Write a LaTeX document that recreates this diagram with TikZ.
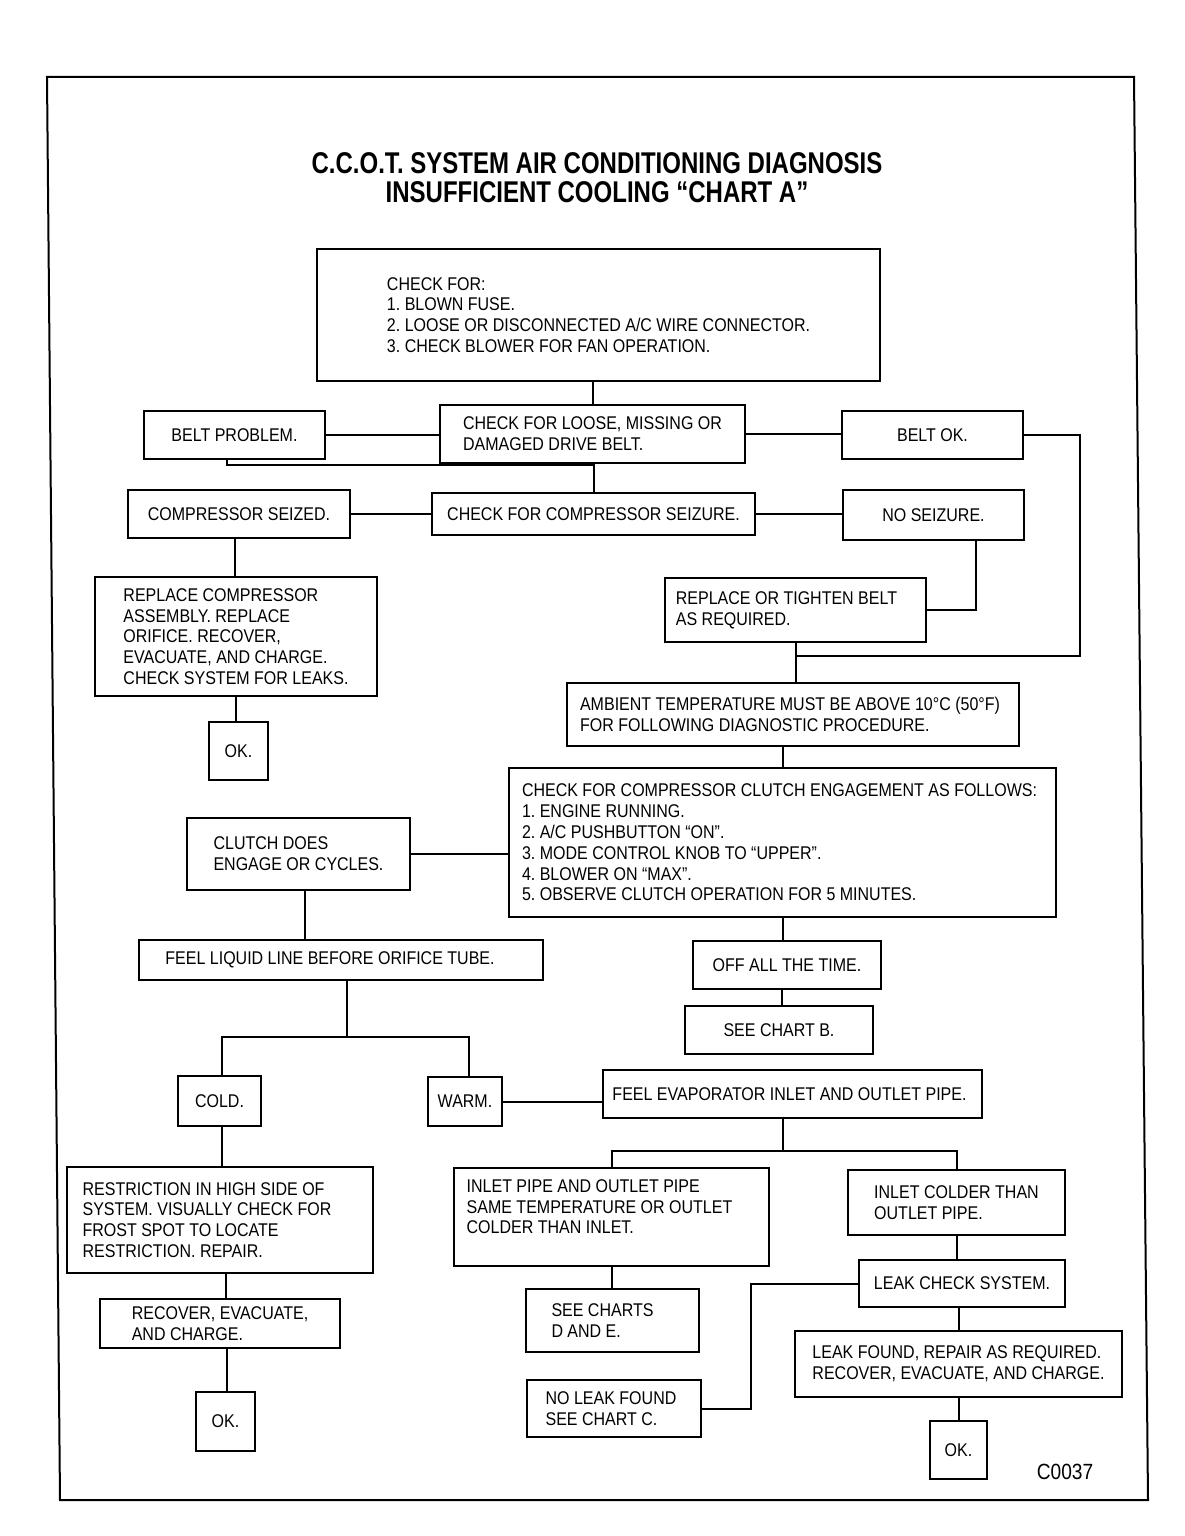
\documentclass[tikz,border=0pt]{standalone}
\usepackage{fontspec}
\setmainfont{Liberation Sans}[FakeStretch=0.87]
\newfontfamily\titlefont{Liberation Sans}[FakeStretch=0.8]
\usetikzlibrary{calc}
\newcommand\padln[2]{\mbox{#1\hspace{#2}}}
\begin{document}
\begin{tikzpicture}[x=0.5pt,y=-0.5pt,
  cbox/.style 2 args={draw, line width=1.1pt, rectangle, minimum width=#1, minimum height=#2,
    inner sep=0pt, align=left, font=\fontsize{9.2}{10.4}\selectfont},
  conn/.style={line width=1pt},
  frame/.style={line width=1pt}]
\useasboundingbox (0,0) rectangle (1184,1536);
\fill[white] (0,0) rectangle (1184,1536);
% outer frame (slightly skewed scan)
\draw[frame] (47,77) -- (1134,77) -- (1148,1500) -- (60,1500) -- cycle;

\node[font=\titlefont\fontsize{15}{14.5}\selectfont\bfseries, align=center] (title) at (597,178)
  {C.C.O.T. SYSTEM AIR CONDITIONING DIAGNOSIS\\INSUFFICIENT COOLING “CHART A”};

\node[cbox={281.5pt}{66pt}] (b1) at (598.5,315)
  {CHECK FOR:\\1.\ BLOWN FUSE.\\2.\ LOOSE OR DISCONNECTED A/C WIRE CONNECTOR.\\3.\ CHECK BLOWER FOR FAN OPERATION.};
\node[cbox={90.5pt}{24pt}] (beltprob) at (234.5,435) {BELT PROBLEM.};
\node[cbox={152.5pt}{29pt}] (loose) at (592.5,434) {CHECK FOR LOOSE, MISSING OR\\DAMAGED DRIVE BELT.};
\node[cbox={90.5pt}{24pt}] (beltok) at (932.5,435) {BELT OK.};
\node[cbox={111pt}{24pt}] (seized) at (239,514) {COMPRESSOR SEIZED.};
\node[cbox={161.5pt}{21pt}] (seizchk) at (593.5,514) {CHECK FOR COMPRESSOR SEIZURE.};
\node[cbox={90.5pt}{25pt}] (noseiz) at (933.5,515) {NO SEIZURE.};
\node[cbox={141pt}{59.5pt}] (replcomp) at (236,636.5)
  {REPLACE COMPRESSOR\\ASSEMBLY. REPLACE\\ORIFICE. RECOVER,\\EVACUATE, AND CHARGE.\\CHECK SYSTEM FOR LEAKS.};
\node[cbox={29.5pt}{29pt}] (ok1) at (238.5,751) {OK.};
\node[cbox={130.5pt}{32pt}] (tighten) at (795.5,610) {\padln{REPLACE OR TIGHTEN BELT}{9pt}\\AS REQUIRED.};
\node[cbox={226pt}{31.5pt}] (ambient) at (793,714.5)
  {\padln{AMBIENT TEMPERATURE MUST BE ABOVE 10°C (50°F)}{3pt}\\FOR FOLLOWING DIAGNOSTIC PROCEDURE.};
\node[cbox={273.5pt}{74.5pt}] (clutchchk) at (782.5,842.5)
  {\padln{CHECK FOR COMPRESSOR CLUTCH ENGAGEMENT AS FOLLOWS:}{3pt}\\1.\ ENGINE RUNNING.\\2.\ A/C PUSHBUTTON “ON”.\\3.\ MODE CONTROL KNOB TO “UPPER”.\\4.\ BLOWER ON “MAX”.\\5.\ OBSERVE CLUTCH OPERATION FOR 5 MINUTES.};
\node[cbox={111.5pt}{36pt}] (clutchdoes) at (298.5,854) {CLUTCH DOES\\ENGAGE OR CYCLES.};
\node[cbox={202pt}{20pt}] (liquid) at (341,960) {\padln{FEEL LIQUID LINE BEFORE ORIFICE TUBE.}{11pt}};
\node[cbox={94pt}{24pt}] (off) at (787,965) {OFF ALL THE TIME.};
\node[cbox={94pt}{24pt}] (chartb) at (779,1030) {SEE CHART B.};
\node[cbox={41.5pt}{25pt}] (cold) at (219.5,1101) {COLD.};
\node[cbox={37pt}{24.5pt}] (warm) at (465,1101.5) {WARM.};
\node[cbox={189.5pt}{24pt}] (evap) at (792.5,1094) {\padln{FEEL EVAPORATOR INLET AND OUTLET PIPE.}{3pt}};
\node[cbox={153pt}{53pt}] (restr) at (220,1220)
  {RESTRICTION IN HIGH SIDE OF\\\padln{SYSTEM. VISUALLY CHECK FOR}{13pt}\\FROST SPOT TO LOCATE\\RESTRICTION. REPAIR.};
\node[cbox={120pt}{24.5pt}] (recover) at (220,1323.5) {RECOVER, EVACUATE,\\AND CHARGE.};
\node[cbox={29.5pt}{29.5pt}] (ok2) at (225.5,1421.5) {OK.};
\node[cbox={157.5pt}{49pt}] (inletpipe) at (611.5,1217)
  {INLET PIPE AND OUTLET PIPE\\\padln{SAME TEMPERATURE OR OUTLET}{12pt}\\COLDER THAN INLET.\\\mbox{}};
\node[cbox={108.5pt}{32.5pt}] (inletcold) at (956.5,1202.5) {INLET COLDER THAN\\OUTLET PIPE.};
\node[cbox={103pt}{23.5pt}] (leakcheck) at (962,1283.5) {LEAK CHECK SYSTEM.};
\node[cbox={86.5pt}{31.5pt}] (seede) at (612.5,1320.5) {\padln{SEE CHARTS}{10pt}\\D AND E.};
\node[cbox={87pt}{28.5pt}] (noleak) at (614,1408.5) {\padln{NO LEAK FOUND}{3pt}\\SEE CHART C.};
\node[cbox={163.5pt}{33pt}] (leakfound) at (958.5,1364)
  {LEAK FOUND, REPAIR AS REQUIRED.\\RECOVER, EVACUATE, AND CHARGE.};
\node[cbox={28.5pt}{29pt}] (ok3) at (958.5,1450) {OK.};
\node[font=\fontsize{11}{12}\selectfont] (code) at (1065,1472) {C0037};

% connectors
\coordinate (rr) at (1080,656);
\coordinate (j1) at (795.5,656);
\draw[conn] (loose.north) -- (loose.north |- b1.south);
\draw[conn] (beltprob.east) -- (beltprob.east -| loose.west);
\draw[conn] (loose.east) -- (loose.east -| beltok.west);
\draw[conn] (beltok.east) -| (rr) -- (j1);
\draw[conn] ([xshift=-4pt]beltprob.south) -- ++(0,5) -| (seizchk.north);
\draw[conn] (seized.east) -- (seized.east -| seizchk.west);
\draw[conn] (seizchk.east) -- (seizchk.east -| noseiz.west);
\draw[conn] ([xshift=-2pt]seized.south) -- ([xshift=-2pt]seized.south |- replcomp.north);
\draw[conn] (replcomp.south) -- (replcomp.south |- ok1.north);
\draw[conn] ([xshift=-24.5pt]noseiz.south east) |- (tighten.east);
\draw[conn] (tighten.south) -- (tighten.south |- ambient.north);
\draw[conn] (clutchchk.north) -- (clutchchk.north |- ambient.south);
\draw[conn] (clutchdoes.east) -- (clutchdoes.east -| clutchchk.west);
\draw[conn] (clutchchk.south) -- (clutchchk.south |- off.north);
\draw[conn] ([xshift=1.5pt]chartb.north) -- ([xshift=1.5pt]chartb.north |- off.south);
\draw[conn] ([xshift=3pt]clutchdoes.south) -- ([xshift=3pt]clutchdoes.south |- liquid.north);
\draw[conn] ([xshift=3pt]liquid.south) -- ++(0,56) coordinate (j2);
\draw[conn] ([xshift=1pt]cold.north) |- (j2) -| ([xshift=2pt]warm.north);
\draw[conn] (warm.east) -- (warm.east -| evap.west);
\draw[conn] ([xshift=-4.75pt]evap.south) -- ++(0,32) coordinate (j3);
\draw[conn] (inletpipe.north) |- (j3) -| (inletcold.north);
\draw[conn] (inletcold.south) -- (inletcold.south |- leakcheck.north);
\draw[conn] (leakcheck.west) -- ++(-107,0) |- (noleak.east);
\draw[conn] (leakfound.north) -- (leakfound.north |- leakcheck.south);
\draw[conn] (leakfound.south) -- (leakfound.south |- ok3.north);
\draw[conn] (inletpipe.south) -- (inletpipe.south |- seede.north);
\draw[conn] ([xshift=1pt]cold.south) -- ([xshift=1pt]cold.south |- restr.north);
\draw[conn] ([xshift=3pt]restr.south) -- ([xshift=3pt]restr.south |- recover.north);
\draw[conn] ([xshift=3.5pt]recover.south) -- ([xshift=3.5pt]recover.south |- ok2.north);
\end{tikzpicture}
\end{document}
